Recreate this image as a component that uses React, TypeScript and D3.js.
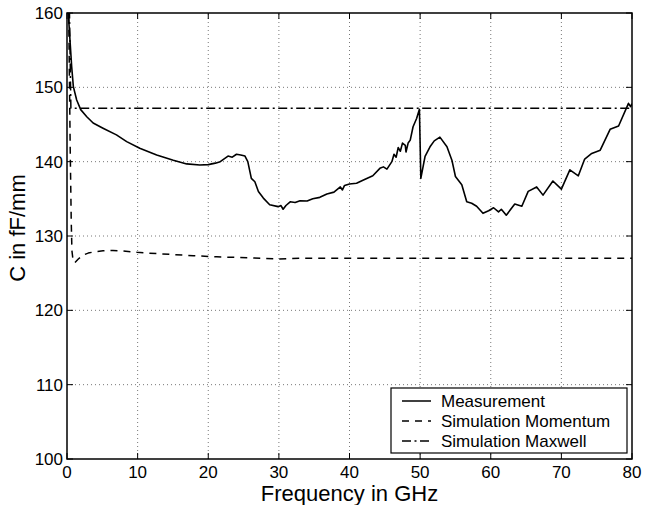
import React from "react";
import * as d3 from "d3";

const xTicks = [0, 10, 20, 30, 40, 50, 60, 70, 80];
const yTicks = [100, 110, 120, 130, 140, 150, 160];

const measFreq = [0.15, 0.18, 0.42, 0.66, 0.9, 1.37, 1.94, 2.8, 3.7, 5.1, 7.0, 8.45, 10.3, 12.7, 15.05, 16.95, 18.8, 20, 21, 21.7, 22.8, 23.4, 24, 24.6, 25.2, 25.6, 26.1, 26.6, 27.1, 27.8, 28.7, 29.9, 30.3, 30.6, 31.0, 31.6, 32.3, 33, 34.0, 34.8, 35.8, 36.8, 37.8, 38.7, 39.0, 39.3, 40, 41.0, 41.9, 43.3, 44.3, 44.8, 45.3, 46.0, 46.3, 46.6, 46.9, 47.2, 47.5, 47.9, 48.0, 48.3, 48.6, 49.0, 49.5, 49.9, 50.1, 50.7, 51.4, 52.0, 52.8, 53.8, 54.5, 55.0, 55.9, 56.6, 57.3, 58.0, 58.9, 59.7, 60.4, 61.1, 61.5, 62.2, 63.4, 64.4, 65.3, 66.5, 67.4, 68.8, 70.0, 71.2, 72.4, 73.3, 74.3, 75.5, 76.9, 78.1, 79.5, 79.8, 80];
const measCap = [161, 160, 156.4, 152.8, 150.1, 148.3, 147.0, 146.05, 145.2, 144.5, 143.6, 142.7, 141.8, 140.9, 140.2, 139.7, 139.55, 139.6, 139.8, 140.0, 140.75, 140.6, 141.0, 140.9, 140.75, 140.0, 137.75, 137.3, 136.0, 135.1, 134.2, 133.95, 134.1, 133.6, 134.1, 134.6, 134.5, 134.75, 134.7, 135.0, 135.2, 135.65, 135.9, 136.6, 136.2, 136.8, 137.0, 137.1, 137.5, 138.1, 139.1, 139.3, 139.0, 140.0, 141.0, 140.6, 141.9, 141.4, 142.5, 142.2, 141.3, 142.5, 142.9, 144.7, 145.8, 147.05, 137.75, 140.7, 142.0, 142.8, 143.3, 142.0, 140.2, 138.0, 136.9, 134.6, 134.4, 134.0, 133.05, 133.4, 133.8, 133.25, 133.6, 132.8, 134.3, 134.0, 136.0, 136.6, 135.5, 137.4, 136.3, 138.9, 138.1, 140.35, 141.1, 141.55, 144.35, 144.8, 147.85, 147.4, 147.8];

const momFreq = [0.15, 0.3, 0.45, 0.6, 0.7, 0.85, 1.1, 1.6, 2.2, 3, 4, 5.1, 6.5, 7.9, 9.9, 13.2, 17.9, 21.2, 26.3, 30, 33, 80];
const momCap = [170, 155, 142, 132, 128, 126.8, 126.4, 126.9, 127.4, 127.7, 127.9, 128.0, 128.05, 128.0, 127.8, 127.6, 127.35, 127.2, 127.05, 126.9, 127.0, 127.0];

const maxFreq = [0.1, 0.35, 0.55, 80];
const maxCap = [175, 160, 147.2, 147.2];

const seriesNames = ["Measurement", "Simulation Momentum", "Simulation Maxwell"];

const W = 653;
const H = 505;
const FONT = "'Liberation Sans', Arial, Helvetica, sans-serif";

export default function App() {
  const x = d3.scaleLinear().domain([0, 80]).range([67, 632]);
  const y = d3.scaleLinear().domain([100, 160]).range([459, 13]);
  const [x0, x1] = x.range();
  const [y0, y1] = y.range();

  const line = d3
    .line<[number, number]>()
    .x((d) => x(d[0]))
    .y((d) => y(d[1]));

  const zip = (a: number[], b: number[]) => a.map((v, i) => [v, b[i]] as [number, number]);

  const dashes = ["", "7,6", "9,3.5,2,3.5"];
  const series = [
    zip(measFreq, measCap),
    zip(momFreq, momCap),
    zip(maxFreq, maxCap),
  ];
  const widths = [1.6, 1.5, 1.5];

  const lx = 391, ly = 388, lw = 236, lh = 65;

  return (
    <svg width={W} height={H} style={{ position: "absolute", left: 0, top: 0, background: "#fff" }} fontFamily={FONT}>
      <defs>
        <clipPath id="plotClip">
          <rect x={x0} y={y1} width={x1 - x0} height={y0 - y1} />
        </clipPath>
      </defs>
      <rect x={0} y={0} width={W} height={H} fill="#fff" />
      {xTicks.slice(1, -1).map((t) => (
        <line key={"gx" + t} x1={x(t)} x2={x(t)} y1={y0} y2={y1} stroke="#555" strokeWidth={0.8} strokeDasharray="1,3" />
      ))}
      {yTicks.slice(1, -1).map((t) => (
        <line key={"gy" + t} x1={x0} x2={x1} y1={y(t)} y2={y(t)} stroke="#555" strokeWidth={0.8} strokeDasharray="1,3" />
      ))}
      <g clipPath="url(#plotClip)">
        {series.map((s, i) => (
          <path key={i} d={line(s) || ""} fill="none" stroke="#000" strokeWidth={widths[i]} strokeDasharray={dashes[i] || undefined} strokeLinejoin="round" />
        ))}
      </g>
      {xTicks.map((t) => (
        <g key={"tx" + t}>
          <line x1={x(t)} x2={x(t)} y1={y0} y2={y0 - 6} stroke="#000" strokeWidth={1} />
          <line x1={x(t)} x2={x(t)} y1={y1} y2={y1 + 6} stroke="#000" strokeWidth={1} />
          <text x={x(t)} y={478} textAnchor="middle" fontSize={17}>{t}</text>
        </g>
      ))}
      {yTicks.map((t) => (
        <g key={"ty" + t}>
          <line x1={x0} x2={x0 + 6} y1={y(t)} y2={y(t)} stroke="#000" strokeWidth={1} />
          <line x1={x1} x2={x1 - 6} y1={y(t)} y2={y(t)} stroke="#000" strokeWidth={1} />
          <text x={63} y={y(t)} dy="0.36em" textAnchor="end" fontSize={17}>{t}</text>
        </g>
      ))}
      <rect x={x0} y={y1} width={x1 - x0} height={y0 - y1} fill="none" stroke="#000" strokeWidth={1.5} />
      <text x={(x0 + x1) / 2} y={501} textAnchor="middle" fontSize={22}>Frequency in GHz</text>
      <text transform={`translate(25,${228}) rotate(-90)`} textAnchor="middle" fontSize={22}>C in fF/mm</text>
      <rect x={lx} y={ly} width={lw} height={lh} fill="#fff" stroke="#000" strokeWidth={1.2} />
      {seriesNames.map((n, i) => {
        const cy = ly + 13 + i * 20;
        return (
          <g key={n}>
            <line x1={lx + 11} x2={lx + 40} y1={cy} y2={cy} stroke="#000" strokeWidth={1.5} strokeDasharray={dashes[i] || undefined} />
            <text x={lx + 50} y={cy} dy="0.36em" fontSize={17}>{n}</text>
          </g>
        );
      })}
    </svg>
  );
}
